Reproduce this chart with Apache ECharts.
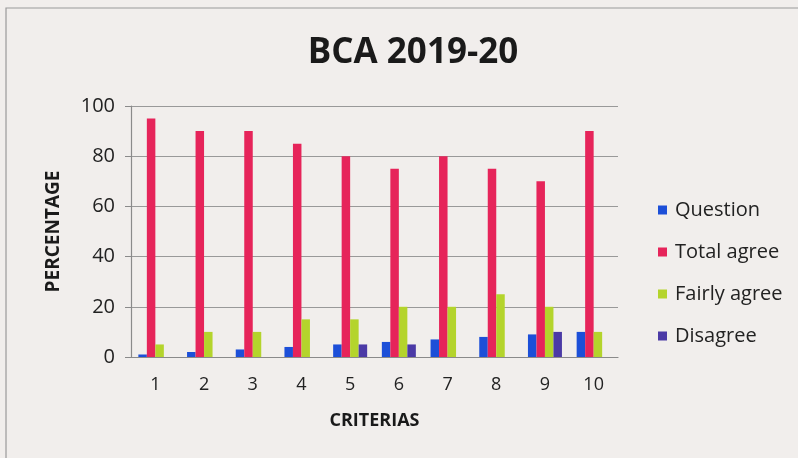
<!DOCTYPE html>
<html><head><meta charset="utf-8">
<script src="https://cdn.jsdelivr.net/npm/echarts@6/dist/echarts.min.js"></script>
<style>html,body{margin:0;padding:0;background:#f1eeec;}#c{width:798px;height:458px;}</style>
</head><body><div id="c"></div>
<script>
const categories = ['1','2','3','4','5','6','7','8','9','10'];
const question = [1,2,3,4,5,6,7,8,9,10];
const totalAgree = [95,90,90,85,80,75,80,75,70,90];
const fairlyAgree = [5,10,10,15,15,20,20,25,20,10];
const disagree = [0,0,0,0,5,5,0,0,10,0];
const seriesNames = ['Question','Total agree','Fairly agree','Disagree'];
const colors = ['#1c4fd8','#e6245a','#b4d42c','#4b3aa6'];
const FONT = '"Open Sans", Lato, sans-serif';

const chart = echarts.init(document.getElementById('c'), null, {renderer:'canvas'});
const dataSets = [question,totalAgree,fairlyAgree,disagree];
chart.setOption({
  backgroundColor:'#f1eeec',
  animation:false,
  color: colors,
  title:{text:'BCA 2019-20', left:408, top:31, textAlign:'center',
    textStyle:{fontFamily:FONT, fontSize:35, fontWeight:'bold', color:'#1a1a1a'}},
  graphic:[{type:'rect', shape:{x:6,y:8,width:900,height:600}, style:{fill:'none', stroke:'#9a9a9a', lineWidth:1.2}, z:-1}],
  legend:{orient:'vertical', left:653, top:195, itemGap:22, itemWidth:9, itemHeight:9,
    icon:'rect', data:seriesNames,
    textStyle:{fontFamily:FONT, fontSize:20, color:'#222', padding:[0,0,0,3]}},
  grid:{left:131, right:180, top:106, bottom:101, containLabel:false},
  xAxis:{type:'category', data:categories, name:'CRITERIAS', nameLocation:'middle', nameGap:55,
    nameTextStyle:{fontFamily:FONT, fontSize:18, fontWeight:'bold', color:'#1a1a1a'},
    axisLine:{lineStyle:{color:'#8a8a8a', width:1.2}}, axisTick:{show:false},
    axisLabel:{fontFamily:FONT, fontSize:18, color:'#222', margin:19}},
  yAxis:{type:'value', min:0, max:100, interval:20, name:'PERCENTAGE', nameLocation:'middle', nameGap:68,
    nameTextStyle:{fontFamily:FONT, fontSize:19, fontWeight:'bold', color:'#1a1a1a'},
    axisLine:{show:true, lineStyle:{color:'#8a8a8a', width:1.2}},
    axisTick:{show:true, length:6, lineStyle:{color:'#8a8a8a'}},
    splitLine:{lineStyle:{color:'#999', width:1.2}},
    axisLabel:{fontFamily:FONT, fontSize:20, color:'#222', margin:16}},
  series: seriesNames.map((n,i)=>({name:n, type:'bar', data:dataSets[i], barWidth:8.5, barGap:'0%', barCategoryGap:'30%',
    itemStyle:{color:colors[i]}}))
});
</script></body></html>
